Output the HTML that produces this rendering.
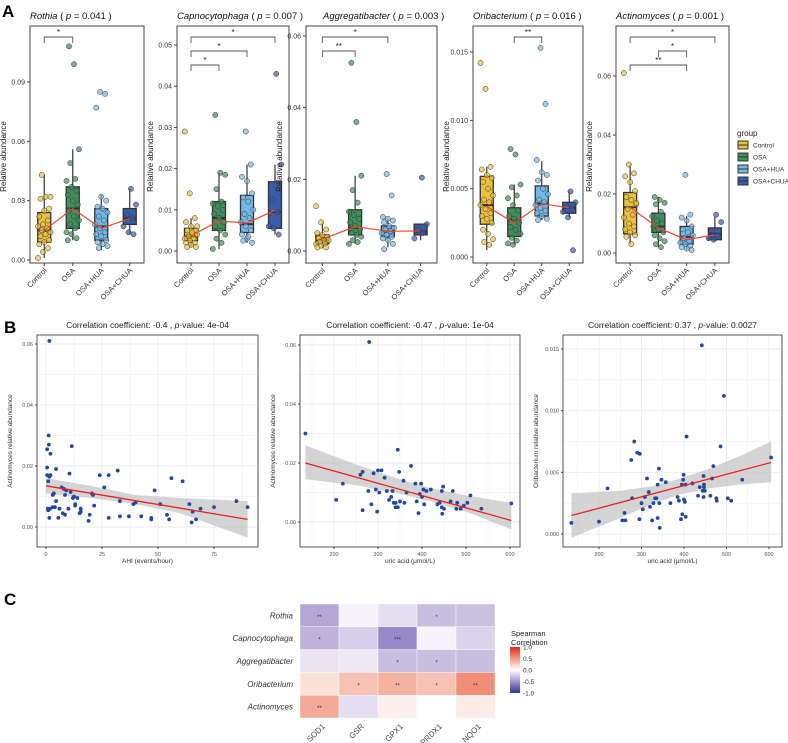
<!DOCTYPE html>
<html><head><meta charset="utf-8">
<style>
html,body{margin:0;padding:0;background:#fff;}
svg{display:block;font-family:"Liberation Sans",Arial,sans-serif;}
</style></head>
<body>
<svg id="fig" width="788" height="743" viewBox="0 0 788 743" xmlns="http://www.w3.org/2000/svg">
<text x="2" y="17" font-size="17" font-weight="bold">A</text>
<text x="4" y="333" font-size="17" font-weight="bold">B</text>
<text x="4" y="605" font-size="17" font-weight="bold">C</text>
</svg>
<script>
// ===== Panel A data =====
const groups = ['Control','OSA','OSA+HUA','OSA+CHUA'];
const groupColors = ['#ecc03c','#3f8f5b','#74b8e8','#3a5ca8'];
const taxaA = ['Rothia','Capnocytophaga','Aggregatibacter','Oribacterium','Actinomyces'];
const pValues = ['0.041','0.007','0.003','0.016','0.001'];
// box stats: [q1, median, q3, whiskerLow, whiskerHigh]
const rothiaBox = [[.009,.015,.024,.001,.043],[.016,.026,.037,.010,.056],[.010,.017,.026,.005,.033],[.018,.021,.026,.013,.036]];
const rothiaMean = [.015,.026,.016,.021];
const rothiaPts = [[.001,.004,.006,.008,.009,.010,.012,.013,.014,.015,.016,.017,.018,.020,.022,.025,.026,.031,.032,.032,.043],
 [.108,.099,.056,.049,.041,.040,.037,.035,.033,.030,.028,.025,.022,.020,.018,.016,.014,.013,.011,.010],
 [.085,.084,.077,.032,.030,.027,.026,.024,.022,.020,.018,.016,.014,.013,.012,.010,.009,.008,.007,.006],
 [.036,.028,.023,.021,.017,.014,.013]];
const rothiaTicks = [0,0.03,0.06,0.09];
const rothiaTickLabels = ['0.00','0.03','0.06','0.09'];

const capnoBox = [[.0025,.0035,.0055,.001,.008],[.005,.008,.012,.0005,.019],[.0045,.0065,.0135,.002,.021],[.0055,.0095,.0168,.004,.021]];
const capnoMean = [.0037,.0073,.0068,.0099];
const capnoPts = [[.029,.014,.008,.007,.006,.005,.005,.004,.004,.0035,.003,.003,.0025,.002,.002,.0015,.001,.001,.0045,.006],
 [.033,.019,.0185,.015,.012,.0115,.011,.01,.009,.008,.007,.006,.005,.004,.003,.002,.0005],
 [.029,.021,.018,.017,.014,.013,.012,.010,.009,.008,.007,.006,.005,.004,.003,.002,.0025,.0035],
 [.043,.021,.0125,.0095,.006,.0055,.004]];
const capnoTicks = [0,0.01,0.02,0.03,0.04,0.05];
const capnoTickLabels = ['0.00','0.01','0.02','0.03','0.04','0.05'];

const aggBox = [[.002,.003,.0045,.0008,.008],[.0045,.0065,.0115,.002,.021],[.004,.0055,.007,.001,.009],[.0045,.0055,.0075,.003,.0075]];
const aggMean = [.0033,.0068,.0055,.0056];
const aggPts = [[.0125,.008,.006,.005,.0045,.004,.0035,.003,.003,.0025,.002,.002,.0015,.001,.001],
 [.0525,.036,.021,.017,.0135,.011,.01,.009,.008,.007,.006,.005,.0045,.004,.003,.0025,.002],
 [.0215,.0155,.0095,.009,.0085,.008,.007,.0065,.006,.0055,.005,.0045,.004,.0035,.003,.002,.0005],
 [.0205,.0075,.006,.005,.0035]];
const aggTicks = [0,0.02,0.04,0.06];
const aggTickLabels = ['0.00','0.02','0.04','0.06'];

const oriBox = [[.0024,.0038,.0059,.0005,.0066],[.0015,.0027,.0036,.0009,.0053],[.0030,.0039,.0052,.0027,.0070],[.0032,.0036,.0040,.0029,.0048]];
const oriMean = [.0037,.0025,.0039,.0036];
const oriPts = [[.0142,.0123,.0066,.0064,.006,.0058,.0055,.005,.0045,.0042,.004,.0038,.0035,.0032,.003,.0028,.0025,.002,.0017,.0013,.0011,.0009],
 [.0079,.0075,.0053,.0051,.0045,.0043,.0038,.0034,.003,.0028,.0025,.0022,.002,.0017,.0014,.0012,.001,.0009],
 [.0153,.0112,.0071,.0062,.006,.0056,.005,.0046,.0042,.004,.0038,.0036,.0034,.0032,.003,.0028,.0027],
 [.0048,.0040,.0037,.0035,.0033,.0029,.0005]];
const oriTicks = [0,0.005,0.010,0.015];
const oriTickLabels = ['0.000','0.005','0.010','0.015'];

const actBox = [[.0065,.0155,.0205,.003,.030],[.007,.009,.0135,.002,.019],[.003,.0055,.009,.001,.0125],[.0045,.0065,.0085,.004,.0125]];
const actMean = [.0155,.0085,.0045,.0062];
const actPts = [[.061,.030,.027,.026,.024,.021,.019,.018,.0165,.015,.013,.012,.010,.009,.008,.007,.006,.0055,.003,.017],
 [.019,.018,.017,.0165,.014,.0125,.011,.010,.009,.008,.007,.006,.005,.004,.003,.002],
 [.0265,.013,.012,.011,.009,.008,.007,.006,.005,.004,.0035,.003,.0025,.002,.0015,.001],
 [.013,.0105,.0075,.006,.005,.0045]];
const actTicks = [0,0.02,0.04,0.06];
const actTickLabels = ['0.00','0.02','0.04','0.06'];

// significance brackets: [fromGroup, toGroup, label]
const rothiaSig = [[0,1,'*']];
const capnoSig = [[0,3,'*'],[0,2,'*'],[0,1,'*']];
const aggSig = [[0,2,'*'],[0,1,'**']];
const oriSig = [[1,2,'**']];
const actSig = [[0,3,'*'],[1,2,'*'],[0,2,'**']];

// ===== Panel B data =====
const b1X = [1.5,1.2,1.3,0.5,2,11.5,0.5,0.5,1.5,2,1,4.5,10.5,24,28,32,56,61,0.8,1,1.8,1.5,3,3.5,4,3,4.5,6,5.5,7,8,8.5,9,7.5,8.5,10,11,12,12.5,13,13,14,15,15.5,15.5,19,19.5,20.5,21,21.5,26,28,33,33,37,39,40,42.5,47,47,48.5,51,54,55,64,65,65.5,67,69,75,85,90];
const b1Y = [.061,.030,.027,.0255,.024,.0265,.0195,.017,.0165,.017,.015,.019,.0175,.017,.017,.0185,.016,.015,.006,.0055,.006,.003,.0105,.011,.0065,.0065,.0085,.006,.003,.013,.0125,.0105,.012,.0045,.004,.006,.0115,.0095,.01,.0075,.007,.0095,.0045,.005,.006,.002,.004,.011,.0105,.007,.013,.003,.0085,.0035,.0035,.0075,.008,.0035,.003,.0025,.012,.0075,.004,.0025,.0075,.0015,.005,.0025,.006,.0065,.0085,.0065];
const b1Fit = [0,.0135,90,.0025];
const b1BandX = [0,20,40,60,90];
const b1BandLo = [.011,.0095,.0075,.0045,-.0035];
const b1BandHi = [.016,.0135,.0105,.0095,.0085];

const b2X = [135,280,205,220,260,265,265,278,285,290,295,298,300,303,308,315,320,325,330,333,336,340,340,345,348,345,350,358,360,365,375,385,388,392,395,398,400,403,405,410,420,435,440,445,445,450,448,446,470,465,478,480,488,495,503,510,535,603];
const b2Y = [.030,.061,.0075,.013,.016,.017,.004,.0105,.006,.0165,.011,.0035,.0175,.01,.0175,.015,.0105,.0075,.0085,.0105,.0065,.005,.0065,.0245,.017,.005,.007,.014,.0065,.01,.019,.013,.007,.003,.0095,.013,.0085,.011,.006,.0105,.011,.006,.0065,.0105,.005,.0045,.012,.0028,.0105,.007,.0045,.0065,.0045,.0055,.0065,.009,.0045,.0063];
const b2Fit = [135,.020,603,.0005];
const b2BandX = [135,250,350,420,500,603];
const b2BandLo = [.0145,.0125,.0095,.007,.0035,-.0025];
const b2BandHi = [.026,.0195,.0145,.0115,.009,.0065];

const b3X = [135,200,220,255,260,262,276,278,283,290,296,295,300,303,308,313,317,320,325,328,332,335,338,338,341,342,343,347,357,368,385,388,393,395,396,398,399,400,402,404,404,406,420,433,437,442,444,446,446,447,447,449,462,466,469,476,477,486,494,503,511,537,605];
const b3Y = [.0009,.001,.0037,.0011,.0017,.0011,.0060,.0029,.0075,.0066,.0065,.0012,.0025,.002,.003,.0045,.0034,.0022,.0011,.0025,.0029,.0029,.004,.0013,.0053,.0025,.0005,.0044,.0042,.0025,.003,.0027,.0012,.004,.0016,.0044,.0048,.0028,.0026,.004,.0014,.0079,.0041,.0031,.0038,.0153,.0035,.0047,.003,.004,.0038,.0035,.0031,.0045,.0055,.0029,.0027,.0071,.0112,.0029,.0027,.0044,.0062];
const b3Fit = [135,.0015,605,.0058];
const b3BandX = [135,250,330,390,460,530,605];
const b3BandLo = [-.0003,.0013,.0025,.0032,.0037,.0040,.0042];
const b3BandHi = [.0033,.0035,.0039,.0045,.0053,.0063,.0075];

// ===== Panel C data =====
const heatRows = ['Rothia','Capnocytophaga','Aggregatibacter','Oribacterium','Actinomyces'];
const heatCols = ['SOD1','GSR','GPX1','PRDX1','NQO1'];
const heatVals = [[-0.40,-0.05,-0.15,-0.30,-0.28],[-0.35,-0.22,-0.55,-0.05,-0.20],[-0.12,-0.10,-0.30,-0.30,-0.30],[0.15,0.30,0.38,0.30,0.55],[0.42,-0.15,0.08,0.0,0.10]];
const heatStars = [['**','','','*',''],['*','','***','',''],['','','*','*',''],['','*','**','*','**'],['**','','','','']];

const NS='http://www.w3.org/2000/svg';
const svg=document.getElementById('fig');
function mk(tag,attrs,parent){const e=document.createElementNS(NS,tag);for(const k in attrs)e.setAttribute(k,attrs[k]);(parent||svg).appendChild(e);return e;}

// ---------- Panel A ----------
const aPlots=[
 {box:rothiaBox,mean:rothiaMean,pts:rothiaPts,ticks:rothiaTicks,tl:rothiaTickLabels,sig:rothiaSig,x0:30,x1:144,y0:260,yr:82,vr:0.09,tx:30},
 {box:capnoBox,mean:capnoMean,pts:capnoPts,ticks:capnoTicks,tl:capnoTickLabels,sig:capnoSig,x0:177,x1:289,y0:251,yr:45,vr:0.05,tx:177},
 {box:aggBox,mean:aggMean,pts:aggPts,ticks:aggTicks,tl:aggTickLabels,sig:aggSig,x0:306,x1:437,y0:251,yr:36,vr:0.06,tx:323},
 {box:oriBox,mean:oriMean,pts:oriPts,ticks:oriTicks,tl:oriTickLabels,sig:oriSig,x0:473,x1:583,y0:257,yr:52,vr:0.015,tx:473},
 {box:actBox,mean:actMean,pts:actPts,ticks:actTicks,tl:actTickLabels,sig:actSig,x0:616,x1:729,y0:253,yr:76,vr:0.06,tx:616}
];
const sigY=[37,51,65];
aPlots.forEach((p,pi)=>{
 const g=mk('g',{});
 
 
 const top=26,bot=263;
 const y=v=>p.y0-(v/p.vr)*(p.y0-p.yr);
 const step=(p.x1-p.x0)/4;
 const cx=i=>p.x0+step*(i+0.5);
 const frame=mk('rect',{x:p.x0,y:top,width:p.x1-p.x0,height:bot-top,fill:'#fff',stroke:'#444','stroke-width':1},g);
 
 
 const t=mk('text',{x:p.tx,y:19,'font-size':9.5,'text-anchor':'start',fill:'#111'},g);
 
 
 t.innerHTML='<tspan font-style="italic">'+taxaA[pi]+'</tspan> ( <tspan font-style="italic">p</tspan> = '+pValues[pi]+' )';
 p.ticks.forEach((tv,ti)=>{
  mk('line',{x1:p.x0-3,x2:p.x0,y1:y(tv),y2:y(tv),stroke:'#444'},g);
  const tt=mk('text',{x:p.x0-5,y:y(tv)+2.5,'font-size':7,'text-anchor':'end',fill:'#333'},g);
  
  
  tt.textContent=p.tl[ti];
 });
 const yt=mk('text',{transform:`translate(${p.x0-24},${(top+bot)/2+12}) rotate(-90)`,'font-size':8,'text-anchor':'middle',fill:'#222'},g);
 
 
 yt.textContent='Relative abundance';
 groups.forEach((gn,gi)=>{
  const c=cx(gi),b=p.box[gi],w=13;
  mk('line',{x1:c,x2:c,y1:y(b[3]),y2:y(b[4]),stroke:'#333','stroke-width':1.2},g);
  const r=mk('rect',{x:c-w/2,y:y(b[2]),width:w,height:y(b[0])-y(b[2]),fill:groupColors[gi],stroke:'#333','stroke-width':1.3},g);
  
  
  mk('line',{x1:c-w/2,x2:c+w/2,y1:y(b[1]),y2:y(b[1]),stroke:'#333','stroke-width':2},g);
  p.pts[gi].forEach((v,k)=>{
   const off=(((k*37+gi*13)%11)-5)*1.25;
   const d=mk('circle',{cx:c+off,cy:y(v),r:2.6,fill:groupColors[gi],'fill-opacity':0.7,stroke:'#333','stroke-width':0.5},g);
   
   
  });
  mk('line',{x1:c,x2:c,y1:bot,y2:bot+3,stroke:'#444'},g);
  const xl=mk('text',{transform:`translate(${c+3},${bot+8}) rotate(-45)`,'font-size':7.5,'text-anchor':'end',fill:'#333'},g);
  
  
  xl.textContent=gn;
 });
 const ml=mk('polyline',{points:p.mean.map((m,i)=>cx(i)+','+y(m)).join(' '),fill:'none',stroke:'#f0472a','stroke-width':1.2},g);
 
 
 p.sig.forEach((s,si)=>{
  const yy=sigY[si],a=cx(s[0]),b=cx(s[1]);
  const br=mk('path',{d:`M${a},${yy+6}V${yy}H${b}V${yy+6}`,fill:'none',stroke:'#555','stroke-width':0.9},g);
  
  
  const st=mk('text',{x:(a+b)/2,y:yy-2,'font-size':8,'text-anchor':'middle',fill:'#222'},g);
  
  
  st.textContent=s[2];
 });
});
// legend A
const lg=mk('g',{});


mk('text',{x:737,y:136,'font-size':8,fill:'#222'},lg).textContent='group';
groups.forEach((gn,gi)=>{
 const yy=145+gi*12;
 const e=mk('g',{},lg);
 
 
 mk('rect',{x:738,y:yy-4,width:10,height:8,fill:groupColors[gi],stroke:'#333','stroke-width':1},e);
 mk('line',{x1:738,x2:748,y1:yy,y2:yy,stroke:'#333','stroke-width':1},e);
 mk('text',{x:753,y:yy+2.5,'font-size':6.5,fill:'#333'},e).textContent=gn;
});

// ---------- Panel B ----------
const bPlots=[
 {X:b1X,Y:b1Y,fit:b1Fit,bx:b1BandX,lo:b1BandLo,hi:b1BandHi,x0:37,x1:258,xa:0,xap:46,xb:75,xbp:214,ya:0,yap:527,yb:0.06,ybp:344,
  xt:[0,25,50,75],yt:[0,0.02,0.04,0.06],ytl:['0.00','0.02','0.04','0.06'],xtitle:'AHI (events/hour)',ytitle:'Actinomyces relative abundance',title:['-0.4','4e-04']},
 {X:b2X,Y:b2Y,fit:b2Fit,bx:b2BandX,lo:b2BandLo,hi:b2BandHi,x0:300,x1:520,xa:200,xap:334,xb:600,xbp:510,ya:0,yap:522,yb:0.06,ybp:345,
  xt:[200,300,400,500,600],yt:[0,0.02,0.04,0.06],ytl:['0.00','0.02','0.04','0.06'],xtitle:'uric acid (μmol/L)',ytitle:'Actinomyces relative abundance',title:['-0.47','1e-04']},
 {X:b3X,Y:b3Y,fit:b3Fit,bx:b3BandX,lo:b3BandLo,hi:b3BandHi,x0:563,x1:782,xa:200,xap:599,xb:600,xbp:769,ya:0,yap:534,yb:0.015,ybp:349,
  xt:[200,300,400,500,600],yt:[0,0.005,0.010,0.015],ytl:['0.000','0.005','0.010','0.015'],xtitle:'uric acid (μmol/L)',ytitle:'Oribacterium relative abundance',title:['0.37','0.0027']}
];
bPlots.forEach((p,pi)=>{
 const g=mk('g',{});
 
 
 const top=335,bot=547;
 const X=v=>p.xap+(v-p.xa)/(p.xb-p.xa)*(p.xbp-p.xap);
 const Y=v=>p.yap-(v-p.ya)/(p.yb-p.ya)*(p.yap-p.ybp);
 mk('rect',{x:p.x0,y:top,width:p.x1-p.x0,height:bot-top,fill:'#fff'},g);
 const xs=p.xt[1]-p.xt[0],ys=p.yt[1]-p.yt[0];
 for(let v=p.xt[0]-xs;v<=p.xt[p.xt.length-1]+xs;v+=xs/2){const px=X(v);if(px>p.x0&&px<p.x1)mk('line',{x1:px,x2:px,y1:top,y2:bot,stroke:'#ebebeb','stroke-width':(Math.abs((v-p.xt[0])/xs%1)<1e-6)?0.9:0.5},g);}
 for(let v=p.yt[0]-ys;v<=p.yt[p.yt.length-1]+ys;v+=ys/2){const py=Y(v);if(py>top&&py<bot)mk('line',{x1:p.x0,x2:p.x1,y1:py,y2:py,stroke:'#ebebeb','stroke-width':(Math.abs(Math.round((v-p.yt[0])/ys*2))%2===0)?0.9:0.5},g);}
 const band=mk('polygon',{points:p.bx.map((x,i)=>X(x)+','+Y(p.hi[i])).concat(p.bx.slice().reverse().map((x,i)=>X(x)+','+Y(p.lo[p.bx.length-1-i]))).join(' '),fill:'#bdbdbd','fill-opacity':0.65},g);
 
 
 p.X.forEach((xv,i)=>{
  const d=mk('circle',{cx:X(xv),cy:Y(p.Y[i]),r:1.9,fill:'#2248a0'},g);
  
  
 });
 const fl=mk('line',{x1:X(p.fit[0]),y1:Y(p.fit[1]),x2:X(p.fit[2]),y2:Y(p.fit[3]),stroke:'#e8201c','stroke-width':1.3},g);
 
 
 mk('rect',{x:p.x0,y:top,width:p.x1-p.x0,height:bot-top,fill:'none',stroke:'#444','stroke-width':0.9},g);
 p.xt.forEach(v=>{
  mk('line',{x1:X(v),x2:X(v),y1:bot,y2:bot+2,stroke:'#444'},g);
  const tx=mk('text',{x:X(v),y:bot+9,'font-size':5.5,'text-anchor':'middle',fill:'#555'},g);
  
  
  tx.textContent=v;
 });
 p.yt.forEach((v,i)=>{
  mk('line',{x1:p.x0-2,x2:p.x0,y1:Y(v),y2:Y(v),stroke:'#444'},g);
  const ty=mk('text',{x:p.x0-4,y:Y(v)+2,'font-size':5.5,'text-anchor':'end',fill:'#555'},g);
  
  
  ty.textContent=p.ytl[i];
 });
 const xtt=mk('text',{x:(p.x0+p.x1)/2,y:bot+16,'font-size':6.5,'text-anchor':'middle',fill:'#333'},g);
 
 
 xtt.textContent=p.xtitle;
 const ytt=mk('text',{transform:`translate(${p.x0-25},${(top+bot)/2}) rotate(-90)`,'font-size':6.5,'text-anchor':'middle',fill:'#333'},g);
 
 
 ytt.textContent=p.ytitle;
 const tt=mk('text',{x:(p.x0+p.x1)/2,y:328,'font-size':8.5,'text-anchor':'middle',fill:'#222'},g);
 
 
 tt.innerHTML='Correlation coefficient:  '+p.title[0]+' , <tspan font-style="italic">p</tspan>-value:  '+p.title[1];
});

// ---------- Panel C ----------
function heatColor(v){
 const stops=[[-1,[43,58,152]],[-0.5,[163,146,204]],[0,[255,255,255]],[0.5,[241,154,130]],[1,[232,35,27]]];
 for(let i=0;i<stops.length-1;i++){const a=stops[i],b=stops[i+1];if(v<=b[0]){const t=(v-a[0])/(b[0]-a[0]);return 'rgb('+a[1].map((c,k)=>Math.round(c+(b[1][k]-c)*t)).join(',')+')';}}
 return 'rgb(232,35,27)';
}
const hg=mk('g',{});


const hx0=300,hy0=604,cw=39,ch=22.8;
heatRows.forEach((rn,ri)=>{
 const rl=mk('text',{x:hx0-7,y:hy0+ch*ri+ch/2+3,'font-size':8,'font-style':'italic','text-anchor':'end',fill:'#333'},hg);
 
 
 rl.textContent=rn;
 heatCols.forEach((cn,ci)=>{
  const c=mk('rect',{x:hx0+cw*ci,y:hy0+ch*ri,width:cw,height:ch,fill:heatColor(heatVals[ri][ci]),stroke:'#fff','stroke-width':0.4},hg);
  
  
  if(heatStars[ri][ci]){
   const s=mk('text',{x:hx0+cw*ci+cw/2,y:hy0+ch*ri+ch/2+3.5,'font-size':6,'text-anchor':'middle',fill:'#333'},hg);
   
   
   s.textContent=heatStars[ri][ci];
  }
 });
});
heatCols.forEach((cn,ci)=>{
 const cl=mk('text',{transform:`translate(${hx0+cw*ci+cw/2+6},${hy0+ch*5+9}) rotate(-45)`,'font-size':8,'text-anchor':'end',fill:'#444'},hg);
 
 
 cl.textContent=cn;
});
// colorbar legend
const cbTicks=[1,0.5,0,-0.5,-1];
const cbLabels=['1.0','0.5','0.0','-0.5','-1.0'];
const cb=mk('g',{});


mk('text',{x:511,y:636,'font-size':7.5,fill:'#222'},cb).textContent='Spearman';
mk('text',{x:511,y:645,'font-size':7.5,fill:'#222'},cb).textContent='Correlation';
const defs=mk('defs',{});
const lgd=mk('linearGradient',{id:'cbg',x1:0,y1:0,x2:0,y2:1},defs);
[[0,1],[25,0.5],[50,0],[75,-0.5],[100,-1]].forEach(s=>mk('stop',{offset:s[0]+'%','stop-color':heatColor(s[1])},lgd));
const cbY0=647,cbY1=693;
mk('rect',{x:510,y:cbY0,width:10,height:cbY1-cbY0,fill:'url(#cbg)'},cb);
cbTicks.forEach((v,i)=>{
 const yy=cbY0+(1-v)/2*(cbY1-cbY0);
 const t=mk('text',{x:523,y:yy+2.5,'font-size':6.5,fill:'#333'},cb);
 
 
 t.textContent=cbLabels[i];
});
</script>
</body></html>
